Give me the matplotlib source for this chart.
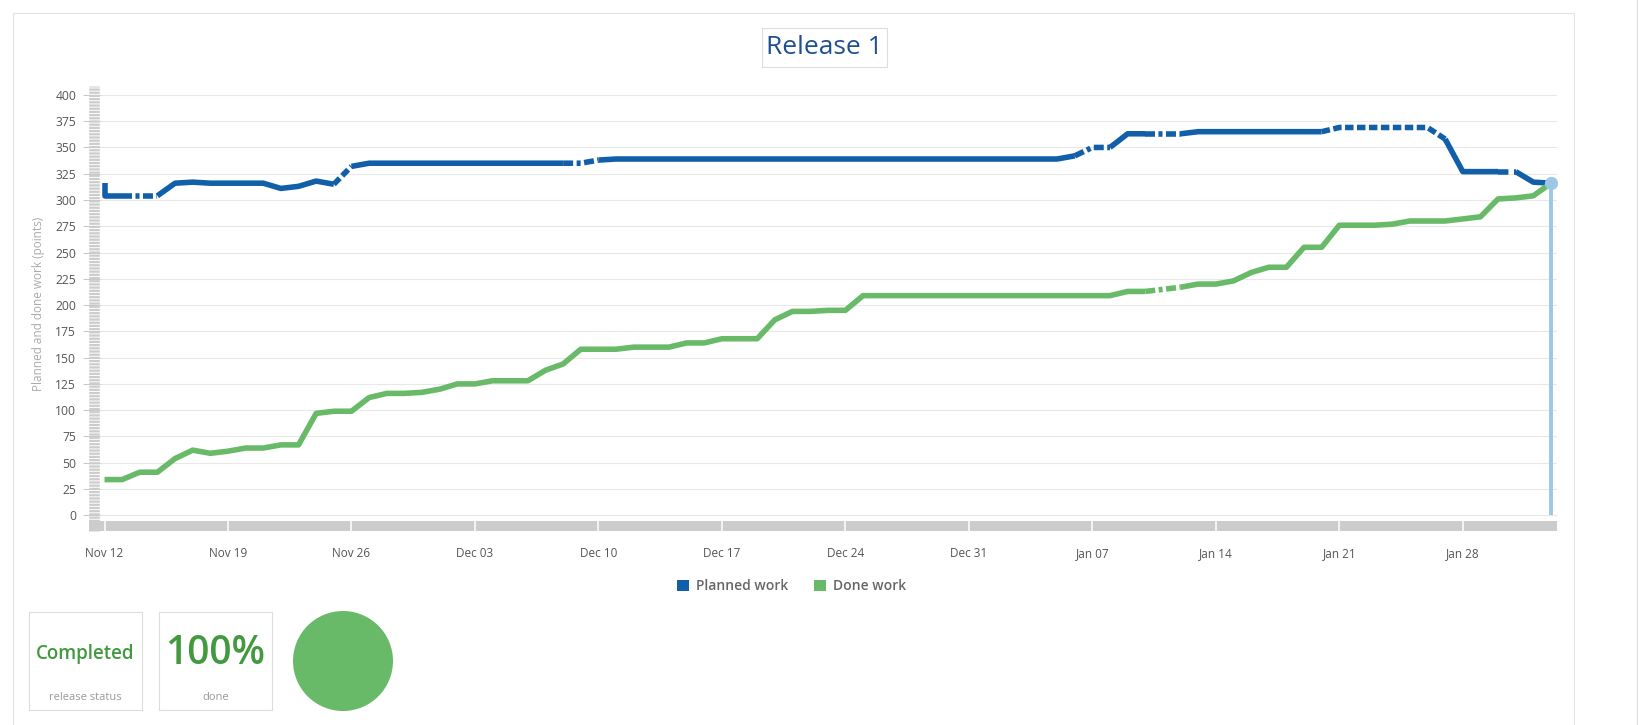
import matplotlib
matplotlib.use("Agg")
import matplotlib.pyplot as plt
import matplotlib.dates as mdates
import matplotlib.transforms as mtransforms
from matplotlib.patches import Rectangle, Ellipse, Patch
from matplotlib.lines import Line2D
import numpy as np
import pandas as pd

plt.rcParams['font.family'] = ['Open Sans', 'DejaVu Sans']
plt.rcParams['lines.scale_dashes'] = False

# ---- data (one value per day, Nov 12 -> Feb 2) ----
days = pd.date_range("2018-11-12", periods=83, freq="D")
week_ticks = pd.date_range("2018-11-12", periods=12, freq="7D")

planned_opening = 316
planned = [304, 304, 304, 304, 316, 317, 316, 316, 316, 316,
           311, 313, 318, 315, 332, 335, 335, 335, 335, 335,
           335, 335, 335, 335, 335, 335, 335, 335, 338, 339,
           339, 339, 339, 339, 339, 339, 339, 339, 339, 339,
           339, 339, 339, 339, 339, 339, 339, 339, 339, 339,
           339, 339, 339, 339, 339, 342, 350, 350, 363, 363,
           363, 363, 365, 365, 365, 365, 365, 365, 365, 365,
           369, 369, 369, 369, 369, 369, 358, 327, 327, 327,
           327, 317, 316]
done = [34, 34, 41, 41, 54, 62, 59, 61, 64, 64,
        67, 67, 97, 99, 99, 112, 116, 116, 117, 120,
        125, 125, 128, 128, 128, 138, 144, 158, 158, 158,
        160, 160, 160, 164, 164, 168, 168, 168, 186, 194,
        194, 195, 195, 209, 209, 209, 209, 209, 209, 209,
        209, 209, 209, 209, 209, 209, 209, 209, 213, 213,
        215, 217, 220, 220, 223, 231, 236, 236, 255, 255,
        276, 276, 276, 277, 280, 280, 280, 282, 284, 301,
        302, 304, 316]

# stretches drawn broken (start date, end date, style)
planned_broken = [("2018-11-13", "2018-11-15", "dashdot"),
                  ("2018-11-25", "2018-11-26", "dash"),
                  ("2018-12-08", "2018-12-10", "dashdot"),
                  ("2019-01-06", "2019-01-08", "dashdot"),
                  ("2019-01-10", "2019-01-12", "dashdot"),
                  ("2019-01-20", "2019-01-27", "dash"),
                  ("2019-01-30", "2019-01-31", "long")]
done_broken = [("2019-01-10", "2019-01-12", "dashdot")]

BLUE = "#125fa9"
GREEN = "#69ba68"
LIGHT_BLUE = "#9cc8e7"
DARK_GREEN = "#43993f"
LW = 4.0
DASHES = {"dash": (6.1, 2.5), "dashdot": (7.2, 2.5, 2.9, 2.5), "long": (7.5, 4.0)}

W, H = 1641, 725
fig = plt.figure(figsize=(W / 100, H / 100), dpi=100)


def fx(px):
    return px / W


def fy(py):
    return 1 - py / H


def draw_series(ax, x, y, broken, color):
    x = np.asarray(x)
    y = np.asarray(y)
    cuts = []
    for s, e, style in broken:
        i0 = int(np.searchsorted(x, np.datetime64(s), side="left"))
        i1 = int(np.searchsorted(x, np.datetime64(e), side="left"))
        cuts.append((i0, i1, style))
    cuts.sort()
    pos = 0
    for i0, i1, style in cuts:
        if i0 > pos:
            ax.plot(x[pos:i0 + 1], y[pos:i0 + 1], color=color, lw=LW,
                    solid_capstyle="butt", solid_joinstyle="round", zorder=3)
        ax.plot(x[i0:i1 + 1], y[i0:i1 + 1], color=color, lw=LW,
                dashes=DASHES[style], dash_capstyle="butt", zorder=3)
        pos = i1
    ax.plot(x[pos:], y[pos:], color=color, lw=LW,
            solid_capstyle="butt", solid_joinstyle="round", zorder=3)


# panel frame (behind everything)
fig.add_artist(Rectangle((fx(12.5), fy(760)), fx(1574 - 12.5), (760 - 12.5) / H,
                         transform=fig.transFigure, fc="white", ec="#e3e3e3", lw=0.8,
                         zorder=-10))
fig.add_artist(Line2D([fx(1637), fx(1637)], [0, 1], color="#dedede", lw=0.8))

# main plot
ax = fig.add_axes([fx(100), fy(521), (1557 - 100) / W, (521 - 86) / H])
ax.set_facecolor("none")
for sp in ax.spines.values():
    sp.set_visible(False)

d0 = mdates.date2num(days[0])
px_day = 17.64
ax.set_xlim(d0 + (100 - 104.5) / px_day, d0 + (1557 - 104.5) / px_day)
ax.set_ylim((515.3 - 521) / 1.051, (515.3 - 86) / 1.051)

ax.set_yticks(range(0, 401, 25))
ax.grid(axis="y", color="#e8e8e8", lw=0.8, zorder=0)
ax.tick_params(axis="y", direction="out", length=12.2, width=0.7, color="#c8c8c8",
               pad=5, labelsize=8.7, labelcolor="#555555")

ax.set_xticks(week_ticks)
ax.xaxis.set_major_formatter(mdates.DateFormatter("%b %d"))
ax.tick_params(axis="x", length=0, pad=19, labelsize=8.5, labelcolor="#555555")

px_dates = np.concatenate([[days[0].to_datetime64()], days.values])
draw_series(ax, px_dates, [planned_opening] + planned, planned_broken, BLUE)
draw_series(ax, days.values, done, done_broken, GREEN)

# hover marker at the last day
ax.vlines(days[-1], 0, done[-1], color=LIGHT_BLUE, lw=2.8, zorder=4)
ax.plot(days[-1], done[-1], "o", color=LIGHT_BLUE, ms=8.5, zorder=5)

# striped navigator-like bars
fig.add_artist(Line2D([fx(94.2), fx(94.2)], [fy(531), fy(86)], color="#cccccc",
                      lw=7.6, dashes=(1.6, 0.7), solid_capstyle="butt"))
fig.add_artist(Rectangle((fx(89), fy(531)), fx(1557 - 89), 10 / H,
                         transform=fig.transFigure, fc="#cccccc", ec="none"))
blend = mtransforms.blended_transform_factory(ax.transData, fig.transFigure)
for t in week_ticks:
    fig.add_artist(Line2D([mdates.date2num(t)] * 2, [fy(531), fy(521)],
                          transform=blend, color="white", lw=1.1))

fig.text(fx(39), fy(303.5), "Planned and done work (points)", rotation=90,
         ha="center", va="center", fontsize=8.5, color="#aaaaaa")

# title box
fig.add_artist(Rectangle((fx(762), fy(67)), fx(887 - 762), 39 / H,
                         transform=fig.transFigure, fc="white", ec="#dddddd", lw=0.8))
fig.text(fx(824.5), fy(47), "Release 1", ha="center", va="center",
         fontsize=19, color="#1d4f91")

# legend
fig.legend(handles=[Patch(fc=BLUE, label="Planned work"),
                    Patch(fc=GREEN, label="Done work")],
           loc="center", bbox_to_anchor=(fx(791.5), fy(586.5)), ncol=2, frameon=False,
           handlelength=0.87, handleheight=0.87, handletextpad=0.5, columnspacing=1.9,
           labelcolor="#666666", prop=dict(size=10, weight="semibold"))

# status tiles
for left, big, small, size in [(29, "Completed", "release status", 13.5),
                               (159, "100%", "done", 28)]:
    fig.add_artist(Rectangle((fx(left), fy(710)), fx(113), 98 / H,
                             transform=fig.transFigure, fc="white", ec="#dddddd", lw=0.8))
    fig.text(fx(left + 56.5), fy(654), big, ha="center", va="center",
             fontsize=size, color=DARK_GREEN, weight="semibold")
    fig.text(fx(left + 56.5), fy(697), small, ha="center", va="center",
             fontsize=8, color="#999999")
fig.add_artist(Ellipse((fx(343), fy(661)), 100 / W, 100 / H,
                       transform=fig.transFigure, fc=GREEN, ec="none"))

fig.savefig("out.png", dpi=100)
